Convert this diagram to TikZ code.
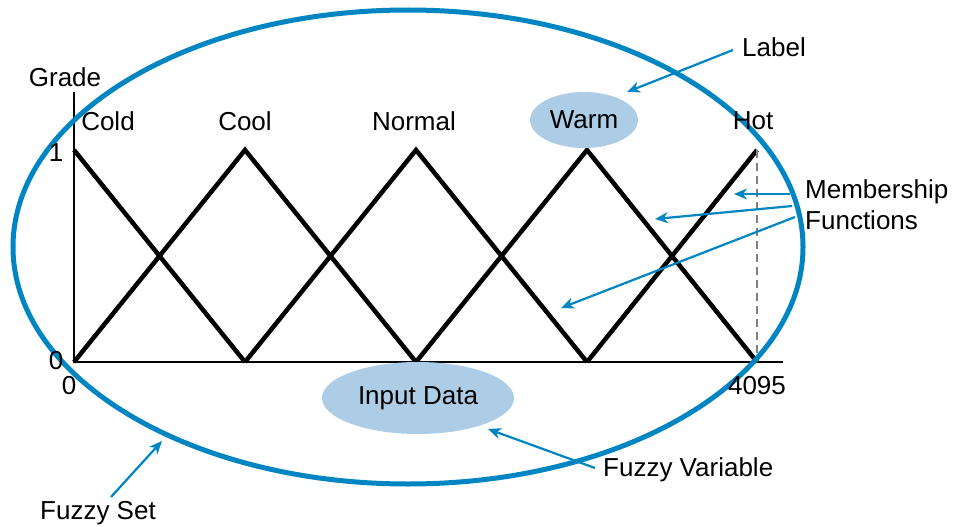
\documentclass[tikz,border=0pt]{standalone}
\usepackage{fontspec}
\setmainfont{Liberation Sans}
\usetikzlibrary{arrows.meta,shapes.geometric}
\definecolor{fzblue}{RGB}{0,133,195}
\definecolor{fzlight}{RGB}{173,205,230}
\definecolor{fzgray}{RGB}{128,128,128}
\begin{document}
\begin{tikzpicture}[x=1pt,y=-1pt,
  txt/.style={font=\fontsize{26}{31}\selectfont, inner sep=0pt, text=black},
  mf/.style={line width=4.5pt, line join=miter, black},
  axisline/.style={line width=2.2pt, black},
  callout/.style={draw=fzblue, line width=2.2pt, -{Stealth[length=13pt,width=11pt,inset=4pt]}},
  bubble/.style={ellipse, fill=fzlight, draw=none, inner sep=0pt}]
\useasboundingbox (0,0) rectangle (959,527);
% axes
\coordinate (o) at (74,362);
\coordinate (ytop) at (74,92);
\coordinate (xend) at (783,362);
\draw[axisline] (ytop) -- (o) -- (xend);
% membership functions
\coordinate (p0) at (74,150);  \coordinate (b0) at (74,362);
\coordinate (p1) at (245,150); \coordinate (b1) at (245,362);
\coordinate (p2) at (416,150); \coordinate (b2) at (416,362);
\coordinate (p3) at (587,150); \coordinate (b3) at (587,362);
\coordinate (p4) at (757,150); \coordinate (b4) at (757,362);
\draw[mf] (p0) -- (b1);
\draw[mf] (b0) -- (p1) -- (b2);
\draw[mf] (b1) -- (p2) -- (b3);
\draw[mf] (b2) -- (p3) -- (b4);
\draw[mf] (b3) -- (p4);
\draw[fzgray, line width=2.2pt, dash pattern=on 8pt off 5pt] (p4) -- (b4);
% bubbles
\node[bubble, minimum width=108pt, minimum height=56pt] (warm) at (584,120) {};
\node[bubble, minimum width=192pt, minimum height=72pt] (input) at (418,398) {};
% fuzzy set ellipse
\node[ellipse, draw=fzblue, line width=5pt, minimum width=790pt, minimum height=474pt, inner sep=0pt] (fset) at (408,247) {};
% texts
\node[txt] (grade) at (65,77) {Grade};
\node[txt] (cold) at (108,121) {Cold};
\node[txt] (cool) at (245,121) {Cool};
\node[txt] (normal) at (414,121) {Normal};
\node[txt] at (warm.center) {Warm};
\node[txt] (hot) at (753,121) {Hot};
\node[txt] (one) at (56,153) {1};
\node[txt] (zeroy) at (56,361) {0};
\node[txt] (zerox) at (69,386) {0};
\node[txt] (max) at (757,386) {4095};
\node[txt] at (input.center) {Input Data};
\node[txt, anchor=west] (lbl) at (742,47) {Label};
\node[txt, anchor=west, align=left] (memb) at (805,205) {Membership\\Functions};
\node[txt, anchor=west] (fvar) at (603,470) {Fuzzy Variable};
\node[txt] (fsetlbl) at (98,513) {Fuzzy Set};
% callout ends
\coordinate (lblS) at (733,50);
\coordinate (lblE) at (627,92);
\coordinate (m1S) at (790,194); \coordinate (m1E) at (734,194);
\coordinate (m2S) at (792,206); \coordinate (m2E) at (655,219);
\coordinate (m3S) at (795,217); \coordinate (m3E) at (561,308);
\coordinate (fvS) at (595,468); \coordinate (fvE) at (488,429);
\coordinate (fsS) at (111,497); \coordinate (fsE) at (162,441);
\draw[callout] (lblS) -- (lblE);
\draw[callout] (m1S) -- (m1E);
\draw[callout] (m2S) -- (m2E);
\draw[callout] (m3S) -- (m3E);
\draw[callout] (fvS) -- (fvE);
\draw[callout] (fsS) -- (fsE);
\end{tikzpicture}
\end{document}
